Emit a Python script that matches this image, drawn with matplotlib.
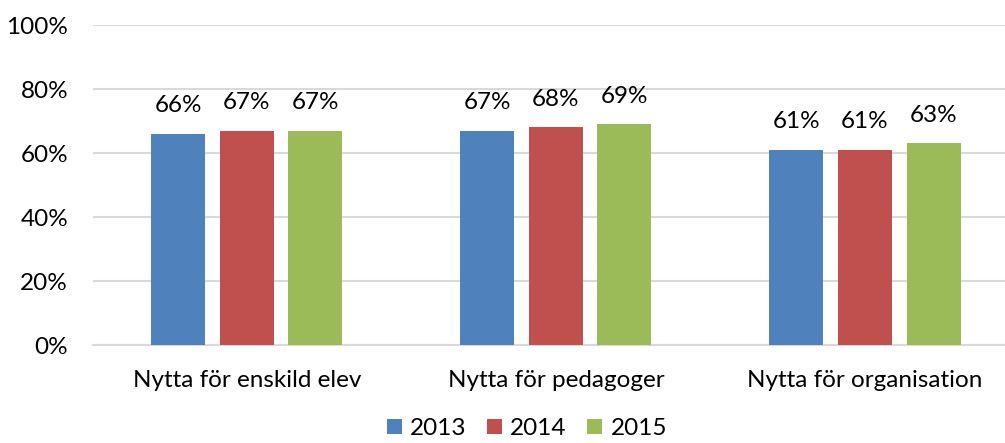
import numpy as np
import matplotlib.pyplot as plt
from matplotlib.ticker import FuncFormatter

categories = ["Nytta för enskild elev", "Nytta för pedagoger", "Nytta för organisation"]
years = ["2013", "2014", "2015"]
values_2013 = [66, 67, 61]
values_2014 = [67, 68, 61]
values_2015 = [67, 69, 63]
colors = ["#4f81bd", "#c0504d", "#9bbb59"]

plt.rcParams['font.family'] = ['Lato', 'DejaVu Sans']

W, H = 1005, 443
fig = plt.figure(figsize=(W / 100, H / 100), dpi=100)
ax = fig.add_axes([93 / W, 1 - 345 / H, (1005 - 93) / W, 320 / H])

x = np.arange(len(categories))
series = [values_2013, values_2014, values_2015]
offset = 68.5 / 309
width = 54 / 309
fs = 17.5

for i, (vals, year, col) in enumerate(zip(series, years, colors)):
    bars = ax.bar(x + (i - 1) * offset, vals, width, color=col, label=year, zorder=3)
    for b, v in zip(bars, vals):
        ax.text(b.get_x() + b.get_width() / 2, v + 5.5, f"{v}%", ha='center', va='bottom',
                fontsize=fs, color='#000000')

ax.set_xlim(-0.498, 2.453)
ax.set_ylim(0, 100)
ax.set_yticks(range(0, 101, 20))
ax.yaxis.set_major_formatter(FuncFormatter(lambda v, p: f"{int(v)}%"))
ax.set_xticks(x)
ax.set_xticklabels(categories)
ax.tick_params(axis='both', length=0, labelsize=fs, colors='#000000')
ax.tick_params(axis='x', pad=18)
ax.tick_params(axis='y', pad=18)
ax.grid(axis='y', color='#d9d9d9', linewidth=1.5, zorder=0)
ax.set_axisbelow(True)
for s in ['top', 'right', 'left']:
    ax.spines[s].set_visible(False)
ax.spines['bottom'].set_color('#d9d9d9')
ax.spines['bottom'].set_linewidth(1.5)
ax.spines['bottom'].set_clip_on(False)

fig.legend(loc='lower center', bbox_to_anchor=(527 / W, -0.04), ncol=3, frameon=False,
           fontsize=fs, handlelength=0.6, handleheight=0.6, handletextpad=0.35,
           columnspacing=0.85)

fig.savefig("out.png", dpi=100)
